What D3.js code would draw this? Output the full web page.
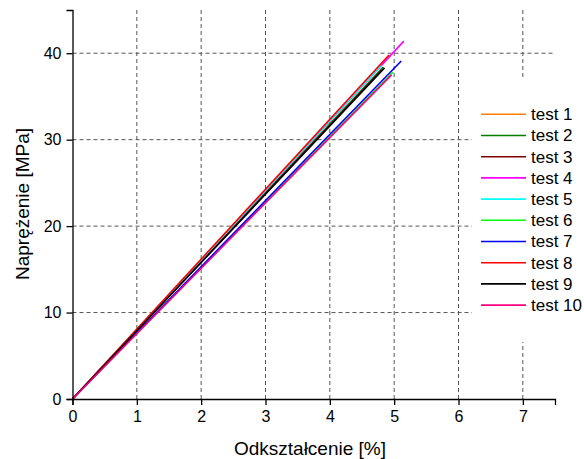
<!DOCTYPE html>
<html>
<head>
<meta charset="utf-8">
<script src="https://cdn.jsdelivr.net/npm/d3@7"></script>
<style>
  body { margin: 0; background: #fff; }
  text { font-family: "Liberation Sans", Arial, sans-serif; fill: #000; }
</style>
</head>
<body>
<svg id="chart" width="584" height="459"></svg>
<script>
// series: each test is a straight run from the origin to its break point
var seriesNames = ["test 1", "test 2", "test 3", "test 4", "test 5", "test 6", "test 7", "test 8", "test 9", "test 10"];
var seriesColors = ["#ff8000", "#008000", "#800000", "#ff00ff", "#00ffff", "#00ff00", "#0000ff", "#ff0000", "#000000", "#ff0080"];
var endStrain = [4.75, 4.83, 4.80, 5.15, 4.80, 4.98, 5.11, 4.92, 4.85, 4.96];
var endStress = [37.7, 38.4, 38.0, 41.4, 38.6, 37.8, 39.1, 39.8, 38.3, 37.5];

var xMajor = [0, 1, 2, 3, 4, 5, 6, 7];
var xMinor = [0.5, 1.5, 2.5, 3.5, 4.5, 5.5, 6.5, 7.5];
var yMajor = [0, 10, 20, 30, 40];
var yMinor = [5, 15, 25, 35, 45];

var svg = d3.select("svg#chart");

var x = d3.scaleLinear().domain([0, 7.5]).range([72.5, 555]);
var y = d3.scaleLinear().domain([0, 45]).range([399, 10]);

// grid
var grid = svg.append("g")
    .attr("stroke", "#555")
    .attr("stroke-width", 1)
    .attr("stroke-dasharray", "4,3");

grid.selectAll(".vgrid")
  .data(xMajor.slice(1))
  .enter().append("line")
    .attr("x1", function(d) { return x(d); })
    .attr("x2", function(d) { return x(d); })
    .attr("y1", y(0))
    .attr("y2", y(45));

grid.selectAll(".hgrid")
  .data(yMajor.slice(1))
  .enter().append("line")
    .attr("x1", x(0))
    .attr("x2", x(7.5))
    .attr("y1", function(d) { return y(d); })
    .attr("y2", function(d) { return y(d); });

// data lines
var line = d3.line()
    .x(function(d) { return x(d[0]); })
    .y(function(d) { return y(d[1]); });

svg.append("g").selectAll("path")
  .data(seriesNames)
  .enter().append("path")
    .attr("fill", "none")
    .attr("stroke", function(d, i) { return seriesColors[i]; })
    .attr("stroke-width", 1.6)
    .attr("d", function(d, i) { return line([[0, 0], [endStrain[i], endStress[i]]]); });

// axes
var xAxis = svg.append("g").attr("transform", "translate(0," + y(0) + ")");
xAxis.call(d3.axisBottom(x).tickValues(xMinor).tickSize(4).tickFormat(""));
xAxis.call(d3.axisBottom(x).tickValues(xMajor).tickSize(6).tickPadding(6).tickFormat(d3.format("d")));

var yAxis = svg.append("g").attr("transform", "translate(" + x(0) + ",0)");
yAxis.call(d3.axisLeft(y).tickValues(yMinor).tickSize(4).tickFormat(""));
yAxis.call(d3.axisLeft(y).tickValues(yMajor).tickSize(6).tickPadding(5).tickFormat(d3.format("d")));

svg.selectAll(".domain").attr("stroke", "#000").attr("stroke-width", 1.3);
svg.selectAll(".tick line").attr("stroke", "#000").attr("stroke-width", 1.3);
svg.selectAll(".tick text").style("font-size", "16px").style("font-family", "Liberation Sans, Arial, sans-serif");

// axis titles
svg.append("text")
  .attr("x", 310)
  .attr("y", 455)
  .attr("text-anchor", "middle")
  .style("font-size", "19px")
  .text("Odkształcenie [%]");

svg.append("text")
  .attr("transform", "translate(29,204) rotate(-90)")
  .attr("text-anchor", "middle")
  .style("font-size", "19px")
  .text("Naprężenie [MPa]");

// legend
var legend = svg.append("g");
legend.append("rect")
  .attr("x", 472).attr("y", 80)
  .attr("width", 112).attr("height", 262)
  .attr("fill", "#fff");

var item = legend.selectAll(".item")
  .data(seriesNames)
  .enter().append("g")
    .attr("transform", function(d, i) { return "translate(481," + (114.3 + i * 21.2) + ")"; });

item.append("line")
  .attr("x1", 0).attr("x2", 45)
  .attr("stroke", function(d, i) { return seriesColors[i]; })
  .attr("stroke-width", 1.6);

item.append("text")
  .attr("x", 50)
  .attr("dy", "0.35em")
  .style("font-size", "17px")
  .text(function(d) { return d; });
</script>
</body>
</html>
